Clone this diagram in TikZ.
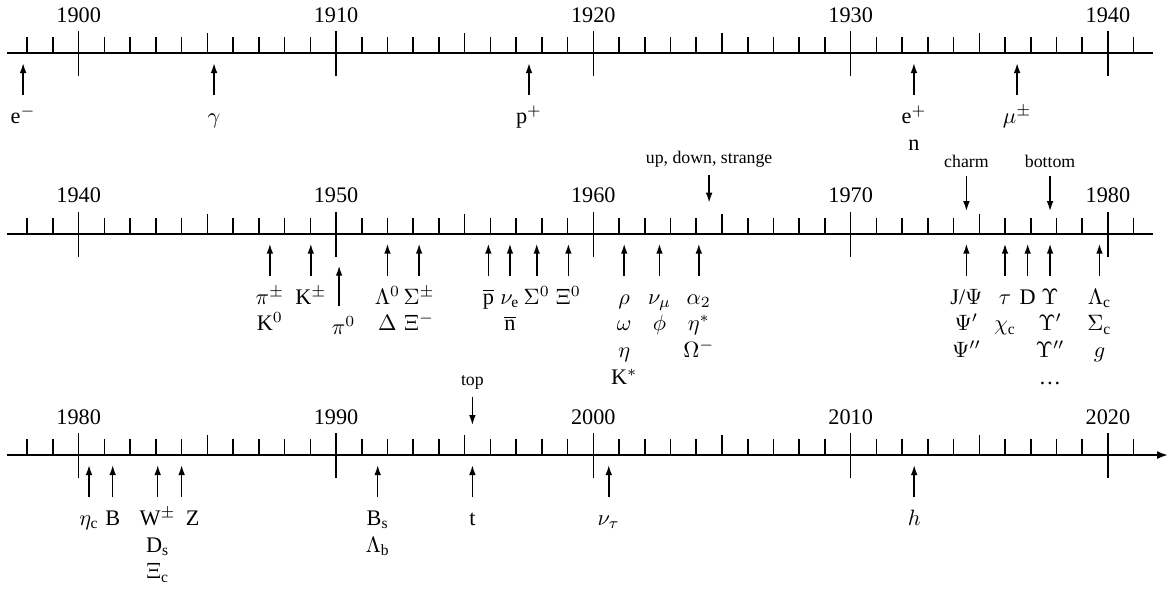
\documentclass[tikz,border=0pt]{standalone}
\usepackage{fontspec}
\setmainfont{Liberation Serif}
\usetikzlibrary{arrows.meta}
\newcommand{\lbltop}{\rule{0pt}{9.3pt}}

\begin{document}
\begin{tikzpicture}[
  x=0.4068cm,
  axis/.style={line width=0.9pt},
  row1/.style={}, row2/.style={},
  row3/.style={-{Latex[length=5pt,width=3.6pt]}},
  tick/.style={line width=0.7pt},
  year/.style={anchor=base,inner sep=0pt},
  lbl/.style={anchor=north,align=center,inner sep=3.33pt},
  quark/.style={anchor=base,font=\footnotesize},
  up/.style={-{Latex[length=4.5pt,width=3pt]},line width=0.7pt}
]
\useasboundingbox (-3.059,0.838) rectangle (42.45,-8.49);

% three rows of the time axis
\foreach \r/\base/\dy/\xe in {1/1900/0/41.75, 2/1940/-2.857/41.75, 3/1980/-6.356/42.34} {
  \begin{scope}[yshift=\dy cm]
    \coordinate (r\r-l) at (-2.79,0);
    \coordinate (r\r-r) at (\xe,0);
    \coordinate (r\r-tip) at (0,-0.158);
    \draw[axis,row\r] (r\r-l) -- (r\r-r);
    \foreach \i in {-2,...,41} \draw[tick] (\i,0) -- (\i,0.253);
    \foreach \i in {5,15,25,35} \draw[tick] (\i,0) -- (\i,0.316);
    \foreach \i in {0,10,...,40} {
      \draw[tick] (\i,-0.364) -- (\i,0.348);
      \pgfmathtruncatemacro\yr{\base+\i}
      \node[year] (r\r-\yr) at (\i,0.49) {\yr};
    }
  \end{scope}
}

% 1900--1940
\node[lbl] (em)  at (-2.16,-0.664) {\lbltop e$^-$};
\node[lbl] (gam) at (5.26,-0.664)  {\lbltop$\gamma$};
\node[lbl] (pp)  at (17.5,-0.664)  {\lbltop p$^+$};
\node[lbl] (ep)  at (32.46,-0.664) {\lbltop e$^+$\\n};
\node[lbl] (mu)  at (36.47,-0.664) {\lbltop$\mu^\pm$};
\foreach \n in {em,gam,pp,ep,mu} \draw[up] (\n.north) -- (\n.north|-r1-tip);

% 1940--1980
\begin{scope}[yshift=-2.857cm]
\node[lbl] (pipm) at (7.43,-0.664)  {\lbltop$\pi^\pm$\\K$^0$};
\node[lbl] (kpm)  at (9.02,-0.664)  {\lbltop K$^\pm$};
\node[lbl,xshift=2pt] (pi0) at (10.12,-1.138) {\lbltop$\pi^0$};
\coordinate (pi0-tip) at (10.12,-0.506);
\node[lbl] (lam)  at (12.0,-0.664)  {\lbltop$\Lambda^0$\\$\Delta$};
\node[lbl] (sig)  at (13.23,-0.664) {\lbltop$\Sigma^\pm$\\$\Xi^-$};
\node[lbl] (pbar) at (15.92,-0.664) {\lbltop$\overline{\mathrm{p}}$};
\node[lbl] (nue)  at (16.76,-0.664) {\lbltop$\nu_\mathrm{e}$\\$\overline{\mathrm{n}}$};
\node[lbl] (sig0) at (17.8,-0.664)  {\lbltop$\Sigma^0$};
\node[lbl] (xi0)  at (19.03,-0.664) {\lbltop$\Xi^0$};
\node[lbl] (rho)  at (21.2,-0.664)  {\lbltop$\rho$\\$\omega$\\$\eta$\\K$^*$};
\node[lbl] (numu) at (22.57,-0.664) {\lbltop$\nu_\mu$\\$\phi$};
\node[lbl] (a2)   at (24.1,-0.664)  {\lbltop$\alpha_2$\\$\eta^*$\\$\Omega^-$};
\node[lbl] (jpsi) at (34.5,-0.664)  {\lbltop J/$\Psi$\\$\Psi'$\\$\Psi''$};
\node[lbl] (tau)  at (36.0,-0.664)  {\lbltop$\tau$\\$\chi_\mathrm{c}$};
\node[lbl] (dmes) at (36.88,-0.664) {\lbltop D};
\node[lbl] (ups)  at (37.75,-0.664) {\lbltop$\Upsilon$\\$\Upsilon'$\\$\Upsilon''$\\\dots};
\node[lbl] (lamc) at (39.67,-0.664) {\lbltop$\Lambda_\mathrm{c}$\\$\Sigma_\mathrm{c}$\\$g$};
\foreach \n in {pipm,kpm,lam,sig,pbar,nue,sig0,xi0,rho,numu,a2,jpsi,tau,dmes,ups,lamc}
  \draw[up] (\n.north) -- (\n.north|-r2-tip);
\draw[up] ([xshift=-2pt]pi0.north) -- (pi0-tip);

\node[quark] (uds)    at (24.5,1.107)  {up, down, strange};
\node[quark] (charm)  at (34.5,1.043)  {charm};
\node[quark] (bottom) at (37.75,1.043) {bottom};
\coordinate (uds-tip) at (0,0.49);
\coordinate (cb-tip)  at (0,0.357);
\draw[up] (uds.south) -- (uds.south|-uds-tip);
\foreach \n in {charm,bottom} \draw[up] (\n.south) -- (\n.south|-cb-tip);
\end{scope}

% 1980--2020
\begin{scope}[yshift=-6.356cm]
\node[lbl] (etac)  at (0.4,-0.664)   {\lbltop$\eta_\mathrm{c}$};
\node[lbl] (bmes)  at (1.32,-0.664)  {\lbltop B};
\node[lbl] (wpm)   at (3.07,-0.664)  {\lbltop W$^\pm$\\D$_\mathrm{s}$\\$\Xi_\mathrm{c}$};
\node[lbl,xshift=5pt] (zb) at (4.0,-0.664) {\lbltop Z};
\node[lbl] (bs)    at (11.62,-0.664) {\lbltop B$_\mathrm{s}$\\$\Lambda_\mathrm{b}$};
\node[lbl] (tq)    at (15.3,-0.664)  {\lbltop t};
\node[lbl] (nutau) at (20.6,-0.664)  {\lbltop$\nu_\tau$};
\node[lbl] (higgs) at (32.47,-0.664) {\lbltop$h$};
\foreach \n in {etac,bmes,wpm,bs,tq,nutau,higgs}
  \draw[up] (\n.north) -- (\n.north|-r3-tip);
\draw[up] ([xshift=-5pt]zb.north) -- ([xshift=-5pt]zb.north|-r3-tip);

\node[quark] (topq) at (15.3,1.107) {top};
\coordinate (top-tip) at (0,0.474);
\draw[up] (topq.south) -- (topq.south|-top-tip);
\end{scope}
\end{tikzpicture}
\end{document}
